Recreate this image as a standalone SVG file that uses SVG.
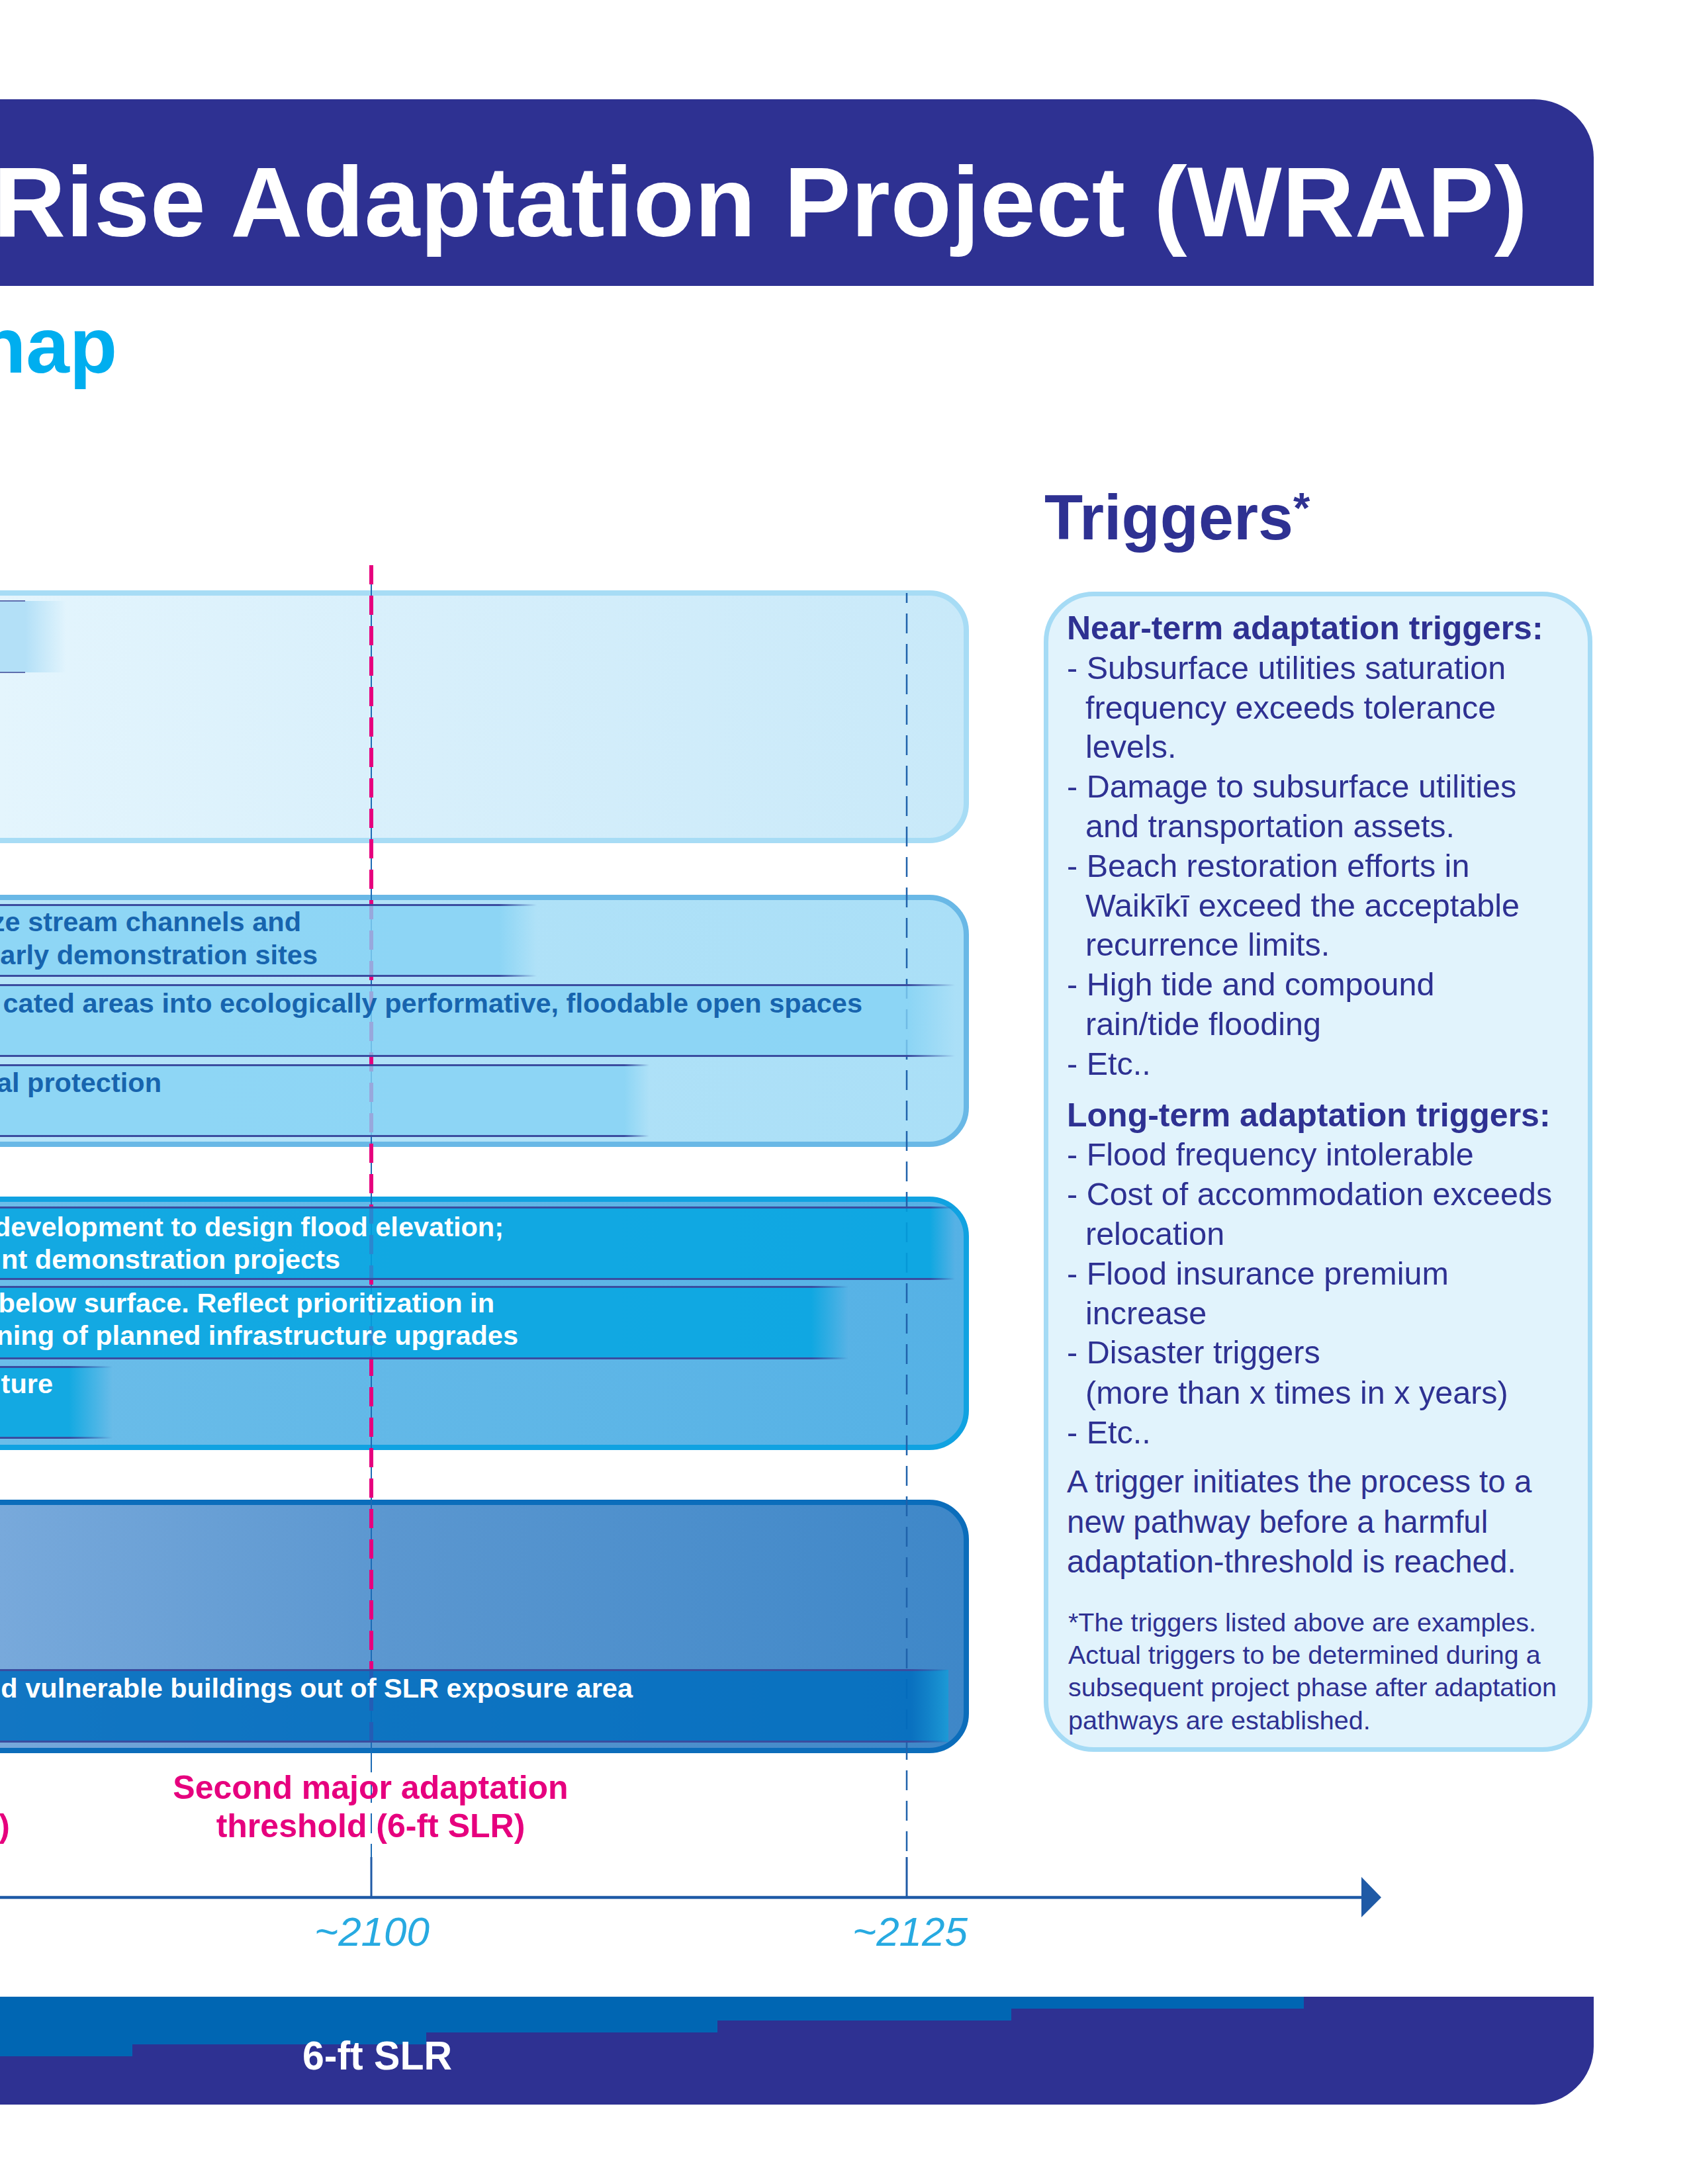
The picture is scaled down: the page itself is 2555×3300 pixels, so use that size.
<svg xmlns="http://www.w3.org/2000/svg" width="2555" height="3300" viewBox="0 0 2555 3300">
<defs>
<style>
.f{font-family:"Liberation Sans",Arial,Helvetica,sans-serif}
.bd{font-family:"Liberation Sans",Arial,Helvetica,sans-serif;font-weight:bold}
.bt{font-family:"Liberation Sans",Arial,Helvetica,sans-serif;font-weight:bold;font-size:41.5px;text-anchor:end}
.t2{fill:#1764ae}
.tw{fill:#ffffff}
.tr{font-family:"Liberation Sans",Arial,Helvetica,sans-serif;font-size:48.5px;fill:#2e3192}
.th{font-family:"Liberation Sans",Arial,Helvetica,sans-serif;font-size:50px;font-weight:bold;fill:#2e3192}
.tp{font-family:"Liberation Sans",Arial,Helvetica,sans-serif;font-size:47.5px;fill:#2e3192}
.tf{font-family:"Liberation Sans",Arial,Helvetica,sans-serif;font-size:39.5px;fill:#2e3192}
.s2{fill:#84d2f4;fill-opacity:.8}
.s3{fill:#00a5e0;fill-opacity:.82}
.s4{fill:#006dbe;fill-opacity:.85}
.ln{fill:#3a4c9f}
.pk{font-family:"Liberation Sans",Arial,Helvetica,sans-serif;font-weight:bold;font-size:50px;fill:#e6007e;text-anchor:middle}
.yr{font-family:"Liberation Sans",Arial,Helvetica,sans-serif;font-style:italic;font-size:62px;fill:#27aae1;text-anchor:middle}
</style>
<linearGradient id="g1" gradientUnits="userSpaceOnUse" x1="0" y1="0" x2="1464" y2="0">
<stop offset="0" stop-color="#e4f5fd"/><stop offset="0.45" stop-color="#d7effb"/><stop offset="1" stop-color="#c8e9f9"/>
</linearGradient>
<linearGradient id="g2" gradientUnits="userSpaceOnUse" x1="0" y1="0" x2="1464" y2="0">
<stop offset="0" stop-color="#b6e4f8"/><stop offset="1" stop-color="#aadff7"/>
</linearGradient>
<linearGradient id="g3" gradientUnits="userSpaceOnUse" x1="0" y1="0" x2="1464" y2="0">
<stop offset="0" stop-color="#6bbde9"/><stop offset="1" stop-color="#55b1e5"/>
</linearGradient>
<linearGradient id="g4" gradientUnits="userSpaceOnUse" x1="0" y1="0" x2="1464" y2="0">
<stop offset="0" stop-color="#78a9db"/><stop offset="0.4" stop-color="#5b97d0"/><stop offset="1" stop-color="#3e87c8"/>
</linearGradient>
<linearGradient id="fd1"><stop offset="0" stop-color="#b3e0f7"/><stop offset="1" stop-color="#b3e0f7" stop-opacity="0"/></linearGradient>
<linearGradient id="fd2"><stop offset="0" stop-color="#84d2f4" stop-opacity=".8"/><stop offset="1" stop-color="#84d2f4" stop-opacity="0"/></linearGradient>
<linearGradient id="fd3"><stop offset="0" stop-color="#00a5e0" stop-opacity=".82"/><stop offset="1" stop-color="#00a5e0" stop-opacity="0"/></linearGradient>
<linearGradient id="fdl"><stop offset="0" stop-color="#3a4c9f"/><stop offset="1" stop-color="#3a4c9f" stop-opacity="0"/></linearGradient>
<linearGradient id="f4e"><stop offset="0" stop-color="#006dbe" stop-opacity=".85"/><stop offset="1" stop-color="#1b9ad6" stop-opacity=".95"/></linearGradient>
</defs>

<rect x="0" y="0" width="2555" height="3300" fill="#ffffff"/>

<g id="title-bar">
<path d="M-10,150 H2318 A90,88 0 0 1 2408,238 V432 H-10 Z" fill="#2e3192"/>
<text class="bd" x="-10" y="357" font-size="151" fill="#ffffff" textLength="2318" lengthAdjust="spacing">Rise Adaptation Project (WRAP)</text>
</g>

<g id="subtitle">
<text class="bd" x="177" y="563" font-size="118" fill="#00aeef" text-anchor="end">nap</text>
</g>

<g id="triggers">
<text class="bd" x="1578" y="815" font-size="96" fill="#2e3192" textLength="376" lengthAdjust="spacingAndGlyphs">Triggers</text>
<text class="bd" x="1954" y="790" font-size="65" fill="#2e3192">*</text>
<rect x="1580.5" y="897.5" width="822" height="1746" rx="72" fill="#e1f3fc" stroke="#a5dbf5" stroke-width="7"/>
<text class="th" x="1612" y="966">Near-term adaptation triggers:</text>
<text class="tr" x="1612" y="1026">- Subsurface utilities saturation</text>
<text class="tr" x="1640" y="1086">frequency exceeds tolerance</text>
<text class="tr" x="1640" y="1145">levels.</text>
<text class="tr" x="1612" y="1205">- Damage to subsurface utilities</text>
<text class="tr" x="1640" y="1265">and transportation assets.</text>
<text class="tr" x="1612" y="1325">- Beach restoration efforts in</text>
<text class="tr" x="1640" y="1385">Waikīkī exceed the acceptable</text>
<text class="tr" x="1640" y="1444">recurrence limits.</text>
<text class="tr" x="1612" y="1504">- High tide and compound</text>
<text class="tr" x="1640" y="1564">rain/tide flooding</text>
<text class="tr" x="1612" y="1624">- Etc..</text>
<text class="th" x="1612" y="1702">Long-term adaptation triggers:</text>
<text class="tr" x="1612" y="1761">- Flood frequency intolerable</text>
<text class="tr" x="1612" y="1821">- Cost of accommodation exceeds</text>
<text class="tr" x="1640" y="1881">relocation</text>
<text class="tr" x="1612" y="1941">- Flood insurance premium</text>
<text class="tr" x="1640" y="2001">increase</text>
<text class="tr" x="1612" y="2060">- Disaster triggers</text>
<text class="tr" x="1640" y="2121">(more than x times in x years)</text>
<text class="tr" x="1612" y="2181">- Etc..</text>
<text class="tp" x="1612" y="2255">A trigger initiates the process to a</text>
<text class="tp" x="1612" y="2316">new pathway before a harmful</text>
<text class="tp" x="1612" y="2376">adaptation-threshold is reached.</text>
<text class="tf" x="1614" y="2465">*The triggers listed above are examples.</text>
<text class="tf" x="1614" y="2514">Actual triggers to be determined during a</text>
<text class="tf" x="1614" y="2563">subsequent project phase after adaptation</text>
<text class="tf" x="1614" y="2613">pathways are established.</text>
</g>

<g id="band1">
<rect x="-100" y="896" width="1560" height="374" rx="56" fill="url(#g1)" stroke="#a7dcf5" stroke-width="8"/>
</g>
<g id="band2">
<rect x="-100" y="1356" width="1560" height="373" rx="56" fill="url(#g2)" stroke="#69b8e6" stroke-width="8"/>
</g>
<g id="band3">
<rect x="-100" y="1812" width="1560" height="375" rx="56" fill="url(#g3)" stroke="#10a2e1" stroke-width="8"/>
</g>
<g id="band4">
<rect x="-100" y="2270" width="1560" height="375" rx="56" fill="url(#g4)" stroke="#0b6dbb" stroke-width="8"/>
</g>

<g id="connectors">
<line x1="561" y1="854" x2="561" y2="2646" stroke="#1c6bb5" stroke-width="2"/>
<line x1="561" y1="2648" x2="561" y2="2806" stroke="#1c6bb5" stroke-width="2" stroke-dasharray="30 16"/>
<line x1="561" y1="854" x2="561" y2="2646" stroke="#e6007e" stroke-width="6" stroke-dasharray="29 17"/>
<line x1="1370" y1="896" x2="1370" y2="2806" stroke="#1f62ab" stroke-width="2.5" stroke-dasharray="30 16" stroke-dashoffset="15"/>
<line x1="561" y1="2806" x2="561" y2="2867" stroke="#1f5aa6" stroke-width="3"/>
<line x1="1370" y1="2806" x2="1370" y2="2867" stroke="#1f5aa6" stroke-width="3"/>
<line x1="-10" y1="2867" x2="2060" y2="2867" stroke="#1f5aa6" stroke-width="4.5"/>
<polygon points="2057,2836 2087,2867 2057,2897" fill="#1f5aa6"/>
</g>

<g id="band1-marker">
<rect x="-60" y="908" width="98" height="108" fill="#b3e0f7"/>
<rect x="38" y="908" width="62" height="108" fill="url(#fd1)"/>
<rect x="-60" y="907" width="98" height="2" fill="#5e6fae"/>
<rect x="-60" y="1015" width="98" height="2" fill="#5e6fae"/>
</g>

<g id="b2a">
<rect class="s2" x="-60" y="1367" width="814" height="108"/>
<rect fill="url(#fd2)" x="754" y="1367" width="57" height="108"/>
<rect class="ln" x="-60" y="1366" width="814" height="3"/>
<rect fill="url(#fdl)" x="754" y="1366" width="57" height="3"/>
<rect class="ln" x="-60" y="1473" width="814" height="3"/>
<rect fill="url(#fdl)" x="754" y="1473" width="57" height="3"/>
<text class="bt t2" x="455" y="1407">ze stream channels and</text>
<text class="bt t2" x="480" y="1457">arly demonstration sites</text>
</g>
<g id="b2b">
<rect class="s2" x="-60" y="1488" width="1432" height="108"/>
<rect fill="url(#fd2)" x="1372" y="1488" width="71" height="108"/>
<rect class="ln" x="-60" y="1487" width="1432" height="3"/>
<rect fill="url(#fdl)" x="1372" y="1487" width="71" height="3"/>
<rect class="ln" x="-60" y="1594" width="1432" height="3"/>
<rect fill="url(#fdl)" x="1372" y="1594" width="71" height="3"/>
<text class="bt t2" x="1303" y="1530">cated areas into ecologically performative, floodable open spaces</text>
</g>
<g id="b2c">
<rect class="s2" x="-60" y="1609" width="1003" height="108"/>
<rect fill="url(#fd2)" x="943" y="1609" width="38" height="108"/>
<rect class="ln" x="-60" y="1608" width="1003" height="3"/>
<rect fill="url(#fdl)" x="943" y="1608" width="38" height="3"/>
<rect class="ln" x="-60" y="1715" width="1003" height="3"/>
<rect fill="url(#fdl)" x="943" y="1715" width="38" height="3"/>
<text class="bt t2" x="244" y="1650">al protection</text>
</g>

<g id="b3a">
<rect class="s3" x="-60" y="1824" width="1465" height="109"/>
<rect fill="url(#fd3)" x="1405" y="1824" width="38" height="109"/>
<rect class="ln" x="-60" y="1823" width="1465" height="3"/>
<rect fill="url(#fdl)" x="1405" y="1823" width="38" height="3"/>
<rect class="ln" x="-60" y="1931" width="1465" height="3"/>
<rect fill="url(#fdl)" x="1405" y="1931" width="38" height="3"/>
<text class="bt tw" x="761" y="1868">development to design flood elevation;</text>
<text class="bt tw" x="514" y="1917">nt demonstration projects</text>
</g>
<g id="b3b">
<rect class="s3" x="-60" y="1944" width="1286" height="109"/>
<rect fill="url(#fd3)" x="1226" y="1944" width="56" height="109"/>
<rect class="ln" x="-60" y="1943" width="1286" height="3"/>
<rect fill="url(#fdl)" x="1226" y="1943" width="56" height="3"/>
<rect class="ln" x="-60" y="2051" width="1286" height="3"/>
<rect fill="url(#fdl)" x="1226" y="2051" width="56" height="3"/>
<text class="bt tw" x="747" y="1983">below surface. Reflect prioritization in</text>
<text class="bt tw" x="783" y="2032">ning of planned infrastructure upgrades</text>
</g>
<g id="b3c">
<rect class="s3" x="-60" y="2065" width="164" height="108"/>
<rect fill="url(#fd3)" x="104" y="2065" width="66" height="108"/>
<rect class="ln" x="-60" y="2064" width="164" height="3"/>
<rect fill="url(#fdl)" x="104" y="2064" width="66" height="3"/>
<rect class="ln" x="-60" y="2171" width="164" height="3"/>
<rect fill="url(#fdl)" x="104" y="2171" width="66" height="3"/>
<text class="bt tw" x="80" y="2105">ture</text>
</g>

<g id="b4a">
<rect class="s4" x="-60" y="2523" width="1437" height="109"/>
<rect fill="url(#f4e)" x="1377" y="2523" width="56" height="109"/>
<rect class="ln" x="-60" y="2522" width="1437" height="3"/>
<rect fill="url(#fdl)" x="1377" y="2522" width="56" height="3"/>
<rect class="ln" x="-60" y="2630" width="1437" height="3"/>
<rect fill="url(#fdl)" x="1377" y="2630" width="56" height="3"/>
<text class="bt tw" x="956" y="2565">d vulnerable buildings out of SLR exposure area</text>
</g>

<g id="thresholds">
<text class="pk" x="560" y="2718">Second major adaptation</text>
<text class="pk" x="560" y="2776">threshold (6-ft SLR)</text>
<text class="bd" x="15" y="2776" font-size="50" fill="#e6007e" text-anchor="end">)</text>
</g>

<g id="years">
<text class="yr" x="562" y="2940">~2100</text>
<text class="yr" x="1375" y="2940">~2125</text>
</g>

<g id="bottom-bar">
<rect x="-10" y="3017" width="1990" height="100" fill="#0066b3"/>
<path d="M-10,3107 H200 V3089 H644 V3071 H1084 V3053 H1528 V3035 H1970 V3017 H2408 V3092 A90,88 0 0 1 2318,3180 H-10 Z" fill="#2e3192"/>
<text class="bd" x="457" y="3127" font-size="61" fill="#ffffff" textLength="226" lengthAdjust="spacingAndGlyphs">6-ft SLR</text>
</g>
</svg>
